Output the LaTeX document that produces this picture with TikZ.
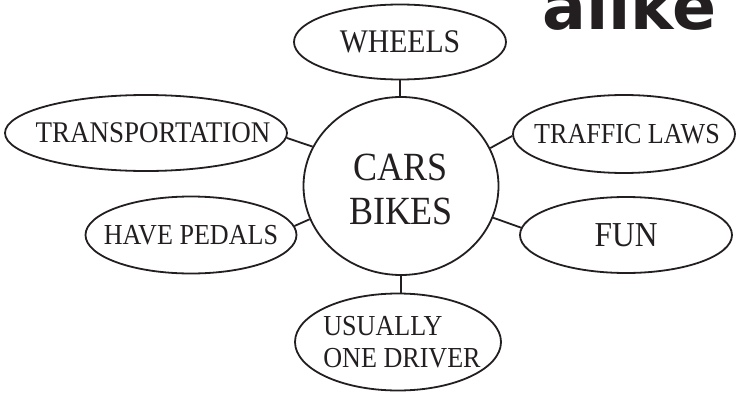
\documentclass[tikz,border=0pt]{standalone}
\usepackage{fontspec}
\setmainfont{Liberation Serif}[FakeStretch=0.9]
\newfontfamily\alikefont{DejaVu Sans}
\usetikzlibrary{shapes.geometric}
\definecolor{ink}{HTML}{231F20}
\tikzset{
  bubble/.style={ellipse, draw=ink, line width=1.8pt, inner sep=0pt},
  word/.style={text=ink, inner sep=0pt, align=center},
  link/.style={draw=ink, line width=1.8pt},
}
\begin{document}
\begin{tikzpicture}[x=1pt,y=-1pt]
\useasboundingbox (0,0) rectangle (736,396);
\node[bubble, minimum width=195pt, minimum height=178pt,
  label={[word, font=\fontsize{40}{44}\selectfont, yshift=-3pt]center:{CARS\\BIKES}}] (center) at (401,186) {};
\node[bubble, minimum width=212pt, minimum height=75pt,
  label={[word, font=\fontsize{33}{36}\selectfont]center:{WHEELS}}] (wheels) at (400,42) {};
\node[bubble, minimum width=282pt, minimum height=76pt,
  label={[word, font=\fontsize{30}{33}\selectfont, xshift=7pt]center:{TRANSPORTATION}}] (transport) at (146,133) {};
\node[bubble, minimum width=211pt, minimum height=77pt,
  label={[word, font=\fontsize{29}{32}\selectfont]center:{HAVE PEDALS}}] (pedals) at (191,235) {};
\node[bubble, minimum width=222pt, minimum height=78pt,
  label={[word, font=\fontsize{29}{32}\selectfont, xshift=3pt]center:{TRAFFIC LAWS}}] (traffic) at (624,134) {};
\node[bubble, minimum width=212pt, minimum height=76pt,
  label={[word, font=\fontsize{35}{38}\selectfont, yshift=0pt]center:{FUN}}] (fun) at (626,235) {};
\node[bubble, minimum width=206pt, minimum height=97pt,
  label={[word, align=left, font=\fontsize{29}{32}\selectfont, xshift=4pt]center:{USUALLY\\ONE DRIVER}}] (driver) at (398,342) {};
\node[anchor=base west, inner sep=0pt, text=ink, font=\alikefont\bfseries\fontsize{65}{70}\selectfont] (alike) at (542,30) {alike};
\draw[link] (wheels.south) -- (wheels.south |- center.north);
\draw[link] (center.south) -- (center.south |- driver.north);
\draw[link] (transport.-2) -- (center.156);
\draw[link] (pedals.5) -- (center.-160);
\draw[link] (traffic.181) -- (center.23);
\draw[link] (fun.176) -- (center.-19);
\end{tikzpicture}
\end{document}
